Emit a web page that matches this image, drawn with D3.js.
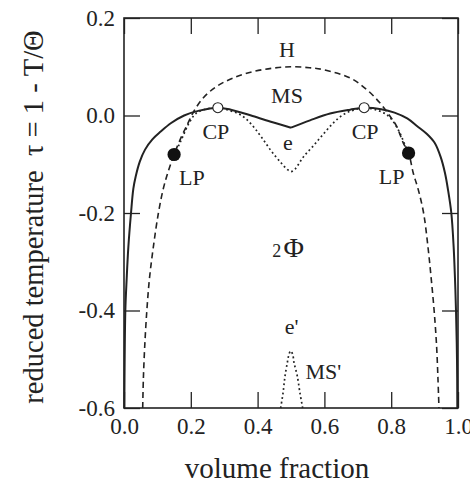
<!DOCTYPE html>
<html>
<head>
<meta charset="utf-8">
<script src="https://cdn.jsdelivr.net/npm/d3@7.9.0/dist/d3.min.js"></script>
<style>
  body { margin: 0; background: #fff; }
  svg { display: block; }
  svg text { font-family: "Liberation Serif", "Times New Roman", serif; fill: #222; }
</style>
</head>
<body>
<svg id="chart" width="470" height="486"></svg>
<script>
// tick values and labels
const xTicks = [0, 0.2, 0.4, 0.6, 0.8, 1.0];
const xTickLabels = ['0.0', '0.2', '0.4', '0.6', '0.8', '1.0'];
const yTicks = [-0.6, -0.4, -0.2, 0, 0.2];
const yTickLabels = ['-0.6', '-0.4', '-0.2', '0.0', '0.2'];

// coexistence curve (solid), split at the kink in the middle
const solidLeft = [
  [0.001, -0.60], [0.002, -0.50], [0.004, -0.40], [0.008, -0.335], [0.013, -0.27],
  [0.021, -0.20], [0.028, -0.15], [0.035, -0.125], [0.047, -0.095], [0.063, -0.07],
  [0.085, -0.049], [0.110, -0.033], [0.140, -0.016], [0.180, 0.000], [0.225, 0.010],
  [0.281, 0.016], [0.320, 0.012], [0.385, -0.001], [0.445, -0.014], [0.500, -0.025]
];
const solidRight = [
  [0.500, -0.025], [0.557, -0.010], [0.617, 0.004], [0.677, 0.012], [0.719, 0.016],
  [0.770, 0.013], [0.810, 0.006], [0.848, -0.006], [0.878, -0.022], [0.907, -0.038],
  [0.930, -0.056], [0.948, -0.085], [0.961, -0.118], [0.970, -0.152], [0.980, -0.20],
  [0.987, -0.27], [0.991, -0.335], [0.994, -0.40], [0.997, -0.50], [0.998, -0.60]
];

// H curve (dashed)
const dashedCurve = [
  [0.056, -0.60], [0.058, -0.54], [0.062, -0.474], [0.068, -0.404], [0.076, -0.336],
  [0.088, -0.269], [0.103, -0.20], [0.117, -0.152], [0.130, -0.12], [0.150, -0.08],
  [0.173, -0.042], [0.190, -0.018], [0.207, 0.006], [0.237, 0.036], [0.278, 0.060],
  [0.327, 0.077], [0.386, 0.090], [0.445, 0.097], [0.500, 0.100], [0.555, 0.098],
  [0.597, 0.094], [0.677, 0.077], [0.727, 0.053], [0.766, 0.026], [0.796, -0.001],
  [0.816, -0.022], [0.836, -0.056], [0.852, -0.077], [0.866, -0.118], [0.881, -0.152],
  [0.897, -0.20], [0.910, -0.269], [0.920, -0.336], [0.929, -0.404], [0.936, -0.474],
  [0.940, -0.54], [0.943, -0.60]
];

// MS curve with the eutectic dip e (dotted)
const dottedCurve = [
  [0.150, -0.080], [0.165, -0.060], [0.178, -0.040], [0.195, -0.015], [0.215, 0.004],
  [0.245, 0.013], [0.281, 0.016], [0.317, 0.010], [0.350, 0.001], [0.380, -0.017],
  [0.410, -0.043], [0.440, -0.072], [0.470, -0.097], [0.488, -0.110], [0.500, -0.115],
  [0.512, -0.110], [0.537, -0.085], [0.567, -0.062], [0.597, -0.038], [0.627, -0.015],
  [0.657, 0.002], [0.687, 0.011], [0.719, 0.016], [0.757, 0.011], [0.786, 0.002],
  [0.806, -0.012], [0.826, -0.036], [0.841, -0.060], [0.852, -0.077]
];

// MS' bump near the bottom (dotted)
const msPrimeCurve = [
  [0.469, -0.60], [0.476, -0.57], [0.482, -0.535], [0.489, -0.507], [0.494, -0.490],
  [0.499, -0.483], [0.505, -0.490], [0.509, -0.507], [0.519, -0.535], [0.527, -0.57],
  [0.535, -0.60]
];

// special points
const lpPoints = [[0.150, -0.080], [0.852, -0.077]];
const cpPoints = [[0.281, 0.016], [0.719, 0.016]];

// text labels inside the plot
const labels = [
  { text: 'H', at: [0.488, 0.135] },
  { text: 'MS', at: [0.488, 0.041] },
  { text: 'CP', at: [0.275, -0.032] },
  { text: 'CP', at: [0.722, -0.032] },
  { text: 'e', at: [0.491, -0.054] },
  { text: 'LP', at: [0.203, -0.127] },
  { text: 'LP', at: [0.801, -0.125] },
  { text: "e'", at: [0.502, -0.432] },
  { text: "MS'", at: [0.597, -0.525] }
];

const svg = d3.select('#chart');
const plotL = 124, plotR = 458, plotT = 18, plotB = 408;
const serif = '"Liberation Serif", "Times New Roman", serif';

const x = d3.scaleLinear().domain([0, 1]).range([plotL, plotR]);
const y = d3.scaleLinear().domain([-0.6, 0.2]).range([plotB, plotT]);

// axes with inward ticks
const fmtX = (d) => xTickLabels[xTicks.indexOf(d)];
const fmtY = (d) => yTickLabels[yTicks.indexOf(d)];

const gx = svg.append('g')
  .attr('transform', `translate(0,${plotB})`)
  .call(d3.axisBottom(x).tickValues(xTicks).tickFormat(fmtX).tickSizeInner(-16).tickSizeOuter(0).tickPadding(10));
const gy = svg.append('g')
  .attr('transform', `translate(${plotL},0)`)
  .call(d3.axisLeft(y).tickValues(yTicks).tickFormat(fmtY).tickSizeInner(-16).tickSizeOuter(0).tickPadding(9));
const gt = svg.append('g')
  .attr('transform', `translate(0,${plotT})`)
  .call(d3.axisTop(x).tickValues(xTicks).tickFormat(() => '').tickSizeInner(-16).tickSizeOuter(0));
const gr = svg.append('g')
  .attr('transform', `translate(${plotR},0)`)
  .call(d3.axisRight(y).tickValues(yTicks).tickFormat(() => '').tickSizeInner(-16).tickSizeOuter(0));

[gx, gy, gt, gr].forEach((g) => {
  g.attr('font-family', serif).attr('font-size', 23);
  g.select('.domain').remove();
  g.selectAll('.tick line').attr('stroke', '#222').attr('stroke-width', 1.3);
  g.selectAll('.tick text')
    .style('font-family', serif)
    .style('font-size', '23px')
    .attr('fill', '#222');
});

// frame
svg.append('rect')
  .attr('x', plotL).attr('y', plotT)
  .attr('width', plotR - plotL).attr('height', plotB - plotT)
  .attr('fill', 'none').attr('stroke', '#222').attr('stroke-width', 1.6);

// curves
const line = d3.line()
  .x((d) => x(d[0]))
  .y((d) => y(d[1]))
  .curve(d3.curveCatmullRom.alpha(0.5));

const plot = svg.append('g');

plot.append('path').attr('d', line(dashedCurve))
  .attr('fill', 'none').attr('stroke', '#222').attr('stroke-width', 1.6)
  .attr('stroke-dasharray', '6,4');

plot.append('path').attr('d', line(dottedCurve))
  .attr('fill', 'none').attr('stroke', '#222').attr('stroke-width', 1.7)
  .attr('stroke-dasharray', '1.8,2.8');

plot.append('path').attr('d', line(msPrimeCurve))
  .attr('fill', 'none').attr('stroke', '#222').attr('stroke-width', 1.7)
  .attr('stroke-dasharray', '1.8,2.8');

[solidLeft, solidRight].forEach((arr) => {
  plot.append('path').attr('d', line(arr))
    .attr('fill', 'none').attr('stroke', '#222').attr('stroke-width', 2);
});

// markers
plot.selectAll('circle.lp').data(lpPoints).join('circle')
  .attr('class', 'lp')
  .attr('cx', (d) => x(d[0])).attr('cy', (d) => y(d[1]))
  .attr('r', 6.6).attr('fill', '#111');

plot.selectAll('circle.cp').data(cpPoints).join('circle')
  .attr('class', 'cp')
  .attr('cx', (d) => x(d[0])).attr('cy', (d) => y(d[1]))
  .attr('r', 5).attr('fill', '#fff').attr('stroke', '#222').attr('stroke-width', 1.1);

// labels
plot.selectAll('text.lbl').data(labels).join('text')
  .attr('class', 'lbl')
  .attr('x', (d) => x(d.at[0])).attr('y', (d) => y(d.at[1]))
  .attr('dy', '0.35em')
  .attr('text-anchor', 'middle')
  .style('font-size', '22px')
  .text((d) => d.text);

// 2 Φ
plot.append('text')
  .attr('x', x(0.457)).attr('y', y(-0.278))
  .attr('dy', '0.35em')
  .attr('text-anchor', 'middle')
  .style('font-size', '18px')
  .text('2');
plot.append('text')
  .attr('x', x(0.508)).attr('y', y(-0.271))
  .attr('dy', '0.35em')
  .attr('text-anchor', 'middle')
  .style('font-size', '28px')
  .text('Φ');

// axis titles
svg.append('text')
  .attr('x', 277).attr('y', 478)
  .attr('text-anchor', 'middle')
  .style('font-size', '29px')
  .text('volume fraction');

svg.append('text')
  .attr('transform', 'translate(43,217) rotate(-90)')
  .attr('text-anchor', 'middle')
  .style('font-size', '28.5px')
  .style('white-space', 'pre')
  .text('reduced temperature  τ = 1 - T/Θ');
</script>
</body>
</html>
